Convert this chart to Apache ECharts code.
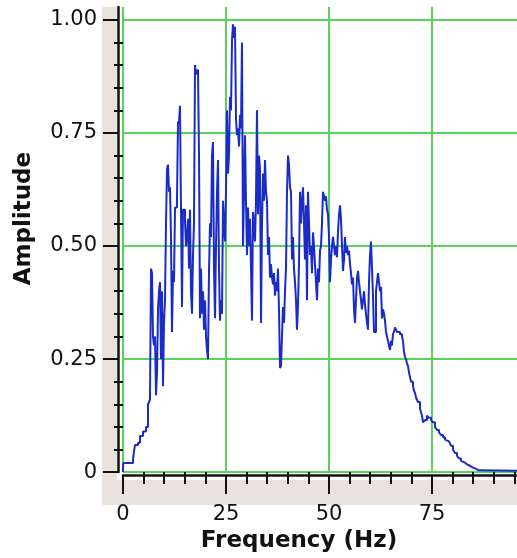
<!DOCTYPE html>
<html>
<head>
<meta charset="utf-8">
<script src="https://cdn.jsdelivr.net/npm/echarts@6/dist/echarts.min.js"></script>
<style>html,body{margin:0;padding:0;background:#fff}#c{width:517px;height:558px}</style>
</head>
<body>
<div id="c"></div>
<script>
const freqHz = [0,0.05,2.43,2.91,3.64,4.13,4.85,5.58,6.07,6.55,6.80,7.04,7.28,7.52,7.77,8.01,8.25,8.50,8.74,8.98,9.22,9.47,9.71,9.95,10.19,10.44,10.68,10.92,11.17,11.41,11.65,11.89,12.14,12.38,12.62,13.11,13.35,13.59,13.83,14.08,14.32,14.56,15.05,15.29,15.53,15.78,16.02,16.26,16.50,16.75,16.99,17.23,17.48,17.72,17.96,18.20,18.45,18.69,18.93,19.17,19.42,19.66,19.90,20.15,20.39,20.63,20.87,21.12,21.36,21.60,21.84,22.09,22.33,22.57,22.82,23.06,23.30,23.54,23.79,24.03,24.27,24.51,24.76,25.00,25.24,25.49,25.73,25.97,26.21,26.46,26.70,26.94,27.18,27.43,27.67,27.91,28.16,28.40,28.64,28.88,29.13,29.37,29.61,29.85,30.10,30.34,30.58,30.83,31.07,31.31,31.55,31.80,32.04,32.28,32.52,32.77,33.01,33.25,33.50,33.74,33.98,34.22,34.47,34.71,34.95,35.19,35.44,35.68,35.92,36.17,36.41,36.65,36.89,37.14,37.38,37.62,37.86,38.11,38.35,38.59,38.83,39.08,39.32,39.56,39.81,40.05,40.29,40.53,40.78,41.02,41.26,41.50,41.75,41.99,42.23,42.48,42.72,42.96,43.20,43.45,43.69,43.93,44.17,44.42,44.66,44.90,45.15,45.39,45.63,45.87,46.12,46.36,46.60,46.84,47.09,47.33,47.57,47.82,48.06,48.30,48.54,48.79,49.03,49.27,49.51,49.76,50.00,50.24,50.49,50.73,50.97,51.21,51.46,51.70,51.94,52.18,52.43,52.67,52.91,53.16,53.40,53.64,53.88,54.13,54.37,54.61,54.85,55.10,55.34,55.58,55.83,56.07,56.31,56.55,56.80,57.04,57.28,57.52,57.77,58.01,58.25,58.50,58.74,58.98,59.22,59.47,59.71,59.95,60.19,60.44,60.68,60.92,61.17,61.41,61.65,61.89,62.14,62.38,62.62,62.86,63.11,63.35,63.59,63.83,64.08,64.32,64.56,64.81,65.05,65.29,65.53,65.78,66.02,66.26,66.50,66.75,67.23,67.72,67.96,68.20,68.45,68.69,68.93,69.17,69.42,69.66,69.90,70.15,70.39,70.63,70.87,71.12,71.36,71.60,72.09,72.57,72.82,73.30,73.79,74.27,74.76,75.24,75.73,76.21,76.70,77.18,77.67,78.16,78.64,79.13,79.61,80.10,80.58,81.07,81.55,82.04,82.52,83.01,83.50,84.22,84.95,85.68,86.41,95.63];
const amplitude = [0,0.02,0.03,0.06,0.065,0.08,0.09,0.10,0.15,0.16,0.45,0.44,0.30,0.28,0.30,0.17,0.22,0.36,0.40,0.42,0.25,0.40,0.19,0.33,0.38,0.55,0.67,0.68,0.62,0.63,0.52,0.31,0.445,0.42,0.585,0.605,0.775,0.77,0.81,0.58,0.365,0.58,0.555,0.50,0.52,0.56,0.45,0.58,0.40,0.35,0.48,0.55,0.90,0.88,0.88,0.89,0.70,0.34,0.45,0.35,0.40,0.315,0.38,0.30,0.27,0.25,0.44,0.55,0.52,0.70,0.73,0.45,0.34,0.50,0.62,0.69,0.45,0.335,0.38,0.35,0.60,0.55,0.51,0.62,0.80,0.66,0.70,0.83,0.80,0.955,0.99,0.96,0.985,0.78,0.745,0.76,0.72,0.79,0.76,0.95,0.50,0.62,0.745,0.60,0.48,0.585,0.50,0.56,0.45,0.335,0.575,0.55,0.51,0.60,0.80,0.57,0.70,0.67,0.33,0.55,0.66,0.60,0.69,0.62,0.60,0.48,0.52,0.43,0.46,0.43,0.415,0.44,0.39,0.42,0.40,0.45,0.36,0.23,0.235,0.30,0.365,0.33,0.40,0.45,0.62,0.70,0.68,0.63,0.62,0.47,0.52,0.45,0.42,0.38,0.315,0.37,0.46,0.62,0.55,0.60,0.63,0.55,0.47,0.59,0.38,0.62,0.55,0.48,0.50,0.44,0.53,0.50,0.46,0.42,0.38,0.45,0.42,0.49,0.50,0.55,0.62,0.61,0.60,0.61,0.58,0.57,0.52,0.42,0.47,0.50,0.52,0.50,0.48,0.50,0.475,0.53,0.57,0.59,0.56,0.50,0.445,0.47,0.52,0.485,0.50,0.48,0.49,0.46,0.44,0.415,0.43,0.36,0.33,0.38,0.43,0.445,0.42,0.40,0.38,0.36,0.38,0.40,0.37,0.35,0.33,0.315,0.42,0.48,0.51,0.45,0.39,0.31,0.31,0.40,0.42,0.44,0.42,0.40,0.41,0.34,0.36,0.35,0.335,0.31,0.30,0.29,0.28,0.27,0.29,0.28,0.305,0.31,0.32,0.315,0.31,0.31,0.305,0.30,0.29,0.265,0.255,0.25,0.24,0.235,0.22,0.21,0.20,0.20,0.19,0.18,0.175,0.165,0.16,0.155,0.14,0.125,0.11,0.115,0.125,0.12,0.115,0.11,0.10,0.093,0.088,0.082,0.077,0.072,0.068,0.065,0.058,0.05,0.042,0.036,0.03,0.025,0.021,0.017,0.014,0.01,0.007,0.004,0.003,0.003];
const xMajorTicks = [0,25,50,75];
const xMinorTicks = [5,10,15,20,30,35,40,45,55,60,65,70,80,85,90,95];
const yMajorTicks = [0,0.25,0.5,0.75,1.0];
const yMinorTicks = [0.05,0.1,0.15,0.2,0.3,0.35,0.4,0.45,0.55,0.6,0.65,0.7,0.8,0.85,0.9,0.95];
const xMax = 95.63, yMax = 1.0285;

const chart = echarts.init(document.getElementById('c'));
const green = '#5ad35a';
const pairs = freqHz.map((f,i)=>[f, amplitude[i]]);
const labelFont = {color:'#111', fontFamily:'DejaVu Sans', fontSize:21};
const nameFont = {color:'#111', fontFamily:'DejaVu Sans', fontWeight:'bold', fontSize:23};
chart.setOption({
  animation:false,
  backgroundColor:'#fff',
  grid:{left:123, right:0, top:7, bottom:81, containLabel:false},
  graphic:[
    {type:'rect', z:-10, shape:{x:102,y:7,width:15,height:498}, style:{fill:'#e8e4dd'}, silent:true},
    {type:'rect', z:-10, shape:{x:102,y:480,width:415,height:25}, style:{fill:'#e8e4dd'}, silent:true}
  ],
  xAxis:[
    {type:'value', min:0, max:xMax, interval:25, offset:3, position:'bottom',
     axisLine:{show:true, onZero:false, lineStyle:{color:'#111', width:2.5}},
     axisTick:{show:true, customValues:xMajorTicks, length:19, lineStyle:{color:'#111', width:2}},
     axisLabel:Object.assign({customValues:xMajorTicks, margin:29, formatter:v=>String(v)}, labelFont),
     splitLine:{show:true, showMinLine:true, showMaxLine:true, lineStyle:{color:green, width:2}},
     name:'Frequency (Hz)', nameLocation:'middle', nameGap:47,
     nameTextStyle:Object.assign({padding:[0,42,0,0]}, nameFont)},
    {type:'value', min:0, max:xMax, offset:3, position:'bottom',
     axisLine:{show:false},
     axisTick:{show:true, customValues:xMinorTicks, length:12, lineStyle:{color:'#111', width:2}},
     axisLabel:{show:false}, splitLine:{show:false}}
  ],
  yAxis:[
    {type:'value', min:0, max:yMax, interval:0.25, offset:5, position:'left',
     axisLine:{show:true, onZero:false, lineStyle:{color:'#111', width:2.5}},
     axisTick:{show:true, customValues:yMajorTicks, length:15, lineStyle:{color:'#111', width:2}},
     axisLabel:Object.assign({customValues:yMajorTicks, margin:21, formatter:v=>v===0?'0':v.toFixed(2)}, labelFont),
     splitLine:{show:true, showMinLine:true, showMaxLine:true, lineStyle:{color:green, width:2}},
     name:'Amplitude', nameLocation:'middle', nameGap:82, nameRotate:90,
     nameTextStyle:Object.assign({padding:[0,0,0,42]}, nameFont)},
    {type:'value', min:0, max:yMax, offset:5, position:'left',
     axisLine:{show:false},
     axisTick:{show:true, customValues:yMinorTicks, length:9, lineStyle:{color:'#111', width:2}},
     axisLabel:{show:false}, splitLine:{show:false}}
  ],
  series:[{
    type:'line', xAxisIndex:0, yAxisIndex:0, data:pairs, step:'end',
    showSymbol:false, symbol:'none', z:5,
    lineStyle:{color:'#1b2cc6', width:2}
  }]
});
</script>
</body>
</html>
